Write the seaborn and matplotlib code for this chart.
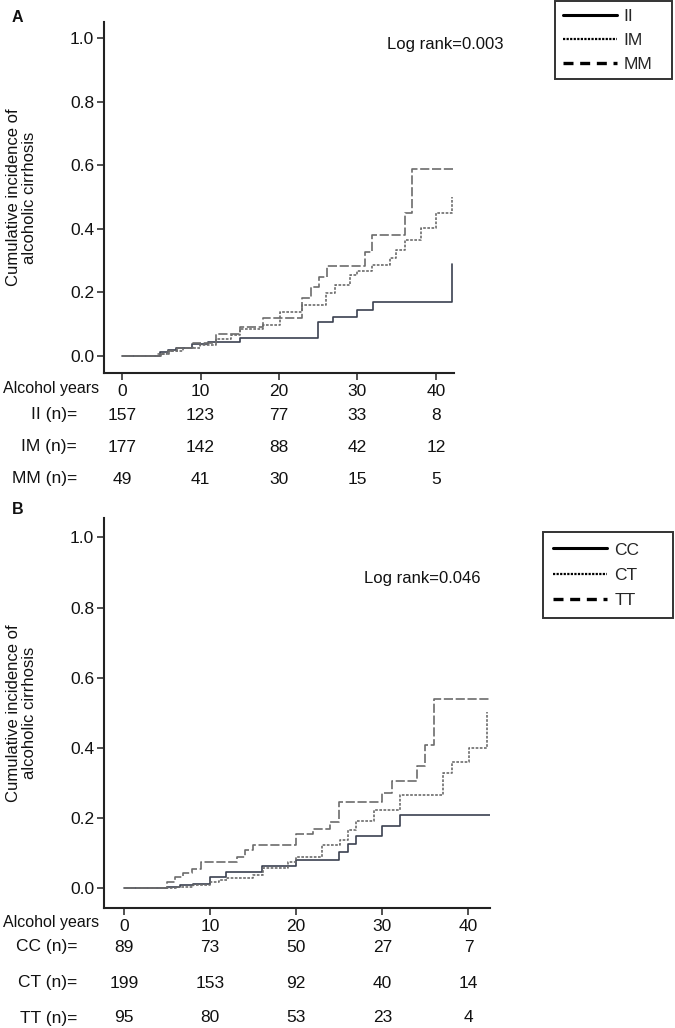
import matplotlib
matplotlib.use("Agg")
import matplotlib.pyplot as plt
import matplotlib.transforms as mtransforms
from matplotlib.lines import Line2D
import seaborn as sns

# ---- data ----
tick_years = [0, 10, 20, 30, 40]

# panel A (genotype II / IM / MM)
ii_years = [0, 4.8, 5.9, 6.9, 8.9, 11.0, 15.0, 25.0, 26.9, 29.9, 32.0, 42.0, 42.0]
ii_cum = [0, 0.012, 0.019, 0.025, 0.038, 0.045, 0.058, 0.106, 0.124, 0.144, 0.171, 0.171, 0.288]
im_years = [0, 4.5, 5.7, 7.8, 9.9, 12.0, 13.9, 15.0, 18.0, 20.1, 22.9, 26.0, 27.1, 29.0,
            30.0, 31.9, 34.1, 34.9, 36.0, 38.1, 40.0, 42.0, 42.0]
im_cum = [0, 0.006, 0.015, 0.025, 0.036, 0.052, 0.066, 0.085, 0.097, 0.139, 0.160, 0.197, 0.223,
          0.255, 0.268, 0.286, 0.307, 0.333, 0.365, 0.401, 0.449, 0.449, 0.499]
mm_years = [0, 5.0, 6.0, 7.0, 9.0, 12.0, 15.0, 18.0, 22.9, 24.1, 25.1, 26.1, 30.9, 31.9,
            36.0, 37.0, 42.3]
mm_cum = [0, 0.006, 0.016, 0.026, 0.040, 0.068, 0.092, 0.118, 0.181, 0.218, 0.249, 0.283,
          0.328, 0.380, 0.451, 0.587, 0.587]
risk_a = {"II (n)=": [157, 123, 77, 33, 8],
          "IM (n)=": [177, 142, 88, 42, 12],
          "MM (n)=": [49, 41, 30, 15, 5]}

# panel B (genotype CC / CT / TT)
cc_years = [0, 5.0, 6.5, 8.0, 10.0, 11.9, 16.0, 20.0, 25.0, 26.0, 27.0, 30.0, 32.1, 42.5]
cc_cum = [0, 0.005, 0.009, 0.013, 0.033, 0.047, 0.064, 0.081, 0.104, 0.125, 0.149, 0.177,
          0.208, 0.208]
ct_years = [0, 6.0, 8.0, 10.0, 11.0, 12.0, 15.0, 16.2, 19.1, 20.0, 23.0, 25.1, 26.0, 27.0,
            29.0, 32.1, 37.0, 38.05, 40.1, 42.1, 42.1]
ct_cum = [0, 0.004, 0.010, 0.018, 0.025, 0.030, 0.038, 0.058, 0.076, 0.088, 0.123, 0.138,
          0.166, 0.193, 0.223, 0.266, 0.328, 0.361, 0.400, 0.400, 0.503]
tt_years = [0, 5.0, 5.9, 6.9, 7.9, 9.0, 13.1, 14.05, 15.0, 20.0, 22.0, 23.9, 25.0, 30.0,
            31.1, 34.0, 35.0, 36.0, 42.5]
tt_cum = [0, 0.019, 0.033, 0.043, 0.055, 0.075, 0.088, 0.110, 0.124, 0.155, 0.169, 0.190,
          0.247, 0.272, 0.306, 0.348, 0.408, 0.538, 0.538]
risk_b = {"CC (n)=": [89, 73, 50, 27, 7],
          "CT (n)=": [199, 153, 92, 40, 14],
          "TT (n)=": [95, 80, 53, 23, 4]}

sns.set_theme(style="white")
plt.rcParams["font.family"] = ["Liberation Sans", "DejaVu Sans"]

W, H = 675, 1028
fig = plt.figure(figsize=(W / 100, H / 100), dpi=100)

SOLID = "#3b4150"
GREY = "#6c6c6c"
TXT = "#111111"
curve_styles = [dict(color=SOLID, linestyle="-", linewidth=1.2),
                dict(color=GREY, linestyle=(0, (1.6, 0.9)), linewidth=1.2),
                dict(color=GREY, linestyle=(0, (5.5, 1.6)), linewidth=1.2)]
legend_styles = [dict(linestyle="-", linewidth=2.2),
                 dict(linestyle=(0, (1, 0.6)), linewidth=1.6),
                 dict(linestyle=(0, (3, 2)), linewidth=2.4)]


def fy(ypix):
    return 1 - ypix / H


def km_panel(box, xlim, ylim, curves, names, risk, rows_y, letter, letter_y,
             logrank, logrank_xy, legend_box, legend_spacing, legend_pad):
    left, top, right, bottom = box
    ax = fig.add_axes([left / W, fy(bottom), (right - left) / W, (bottom - top) / H])
    for (yrs, cum), st in zip(curves, curve_styles):
        sns.lineplot(x=yrs, y=cum, ax=ax, drawstyle="steps-post", estimator=None,
                     sort=False, **st)
    ax.set_xlim(*xlim)
    ax.set_ylim(*ylim)
    ax.set_xticks(tick_years)
    ax.set_yticks([0, 0.2, 0.4, 0.6, 0.8, 1.0])
    ax.set_yticklabels(["0.0", "0.2", "0.4", "0.6", "0.8", "1.0"])
    for s in ["top", "right"]:
        ax.spines[s].set_visible(False)
    for s in ["left", "bottom"]:
        ax.spines[s].set_color("#222222")
        ax.spines[s].set_linewidth(1.5)
    ax.tick_params(axis="both", direction="out", length=5, width=1.1, color="#222222",
                   labelsize=12.5, labelcolor=TXT, pad=2)
    ax.tick_params(axis="x", bottom=True, pad=3)
    ax.tick_params(axis="y", left=True)
    ax.set_xlabel("")
    ax.set_ylabel("Cumulative incidence of\nalcoholic cirrhosis", fontsize=12,
                  color=TXT, linespacing=1.1)
    ax.yaxis.set_label_coords(
        37 / W, 0.5, transform=mtransforms.blended_transform_factory(fig.transFigure, ax.transAxes))

    # numbers at risk under the axis
    trans = mtransforms.blended_transform_factory(ax.transData, fig.transFigure)
    fig.text(3 / W, fy(rows_y[0]), "Alcohol years", ha="left", va="center",
             fontsize=11.5, color=TXT)
    for (label, counts), ry in zip(risk.items(), rows_y[1:]):
        fig.text(77 / W, fy(ry), label, ha="right", va="center", fontsize=12.5, color=TXT)
        for t, n in zip(tick_years, counts):
            ax.text(t, fy(ry), str(n), transform=trans, ha="center", va="center",
                    fontsize=12.5, color=TXT)

    fig.text(12 / W, fy(letter_y), letter, ha="left", va="center", fontsize=11.5,
             fontweight="bold", color=TXT)
    fig.text(logrank_xy[0] / W, fy(logrank_xy[1]), logrank, ha="center", va="center",
             fontsize=12, color=TXT)

    handles = [Line2D([], [], color="black", **st) for st in legend_styles]
    lx0, ly0, lx1, ly1 = legend_box
    leg = ax.legend(handles, names, loc="upper left", mode="expand",
                    bbox_to_anchor=(lx0 / W, fy(ly1), (lx1 - lx0) / W, (ly1 - ly0) / H),
                    bbox_transform=fig.transFigure, frameon=True, fancybox=False,
                    fontsize=12.5, handlelength=3.1, handletextpad=0.4,
                    labelspacing=legend_spacing, borderpad=legend_pad, borderaxespad=0)
    leg.get_frame().set_edgecolor("black")
    leg.get_frame().set_linewidth(1.4)
    return ax


km_panel(box=(104, 22, 454, 373), xlim=(-2.3, 42.3), ylim=(-0.0535, 1.05),
         curves=[(ii_years, ii_cum), (im_years, im_cum), (mm_years, mm_cum)],
         names=["II", "IM", "MM"], risk=risk_a, rows_y=[388, 415, 447, 479],
         letter="A", letter_y=17, logrank="Log rank=0.003", logrank_xy=(445, 45),
         legend_box=(555, 1, 672, 82), legend_spacing=0.5, legend_pad=0.45)

km_panel(box=(104, 518, 490, 908), xlim=(-2.3, 42.5), ylim=(-0.056, 1.055),
         curves=[(cc_years, cc_cum), (ct_years, ct_cum), (tt_years, tt_cum)],
         names=["CC", "CT", "TT"], risk=risk_b, rows_y=[923, 947, 983, 1018],
         letter="B", letter_y=510, logrank="Log rank=0.046", logrank_xy=(422, 578),
         legend_box=(543, 532, 673, 623), legend_spacing=0.58, legend_pad=0.6)

fig.savefig("out.png", dpi=100)
